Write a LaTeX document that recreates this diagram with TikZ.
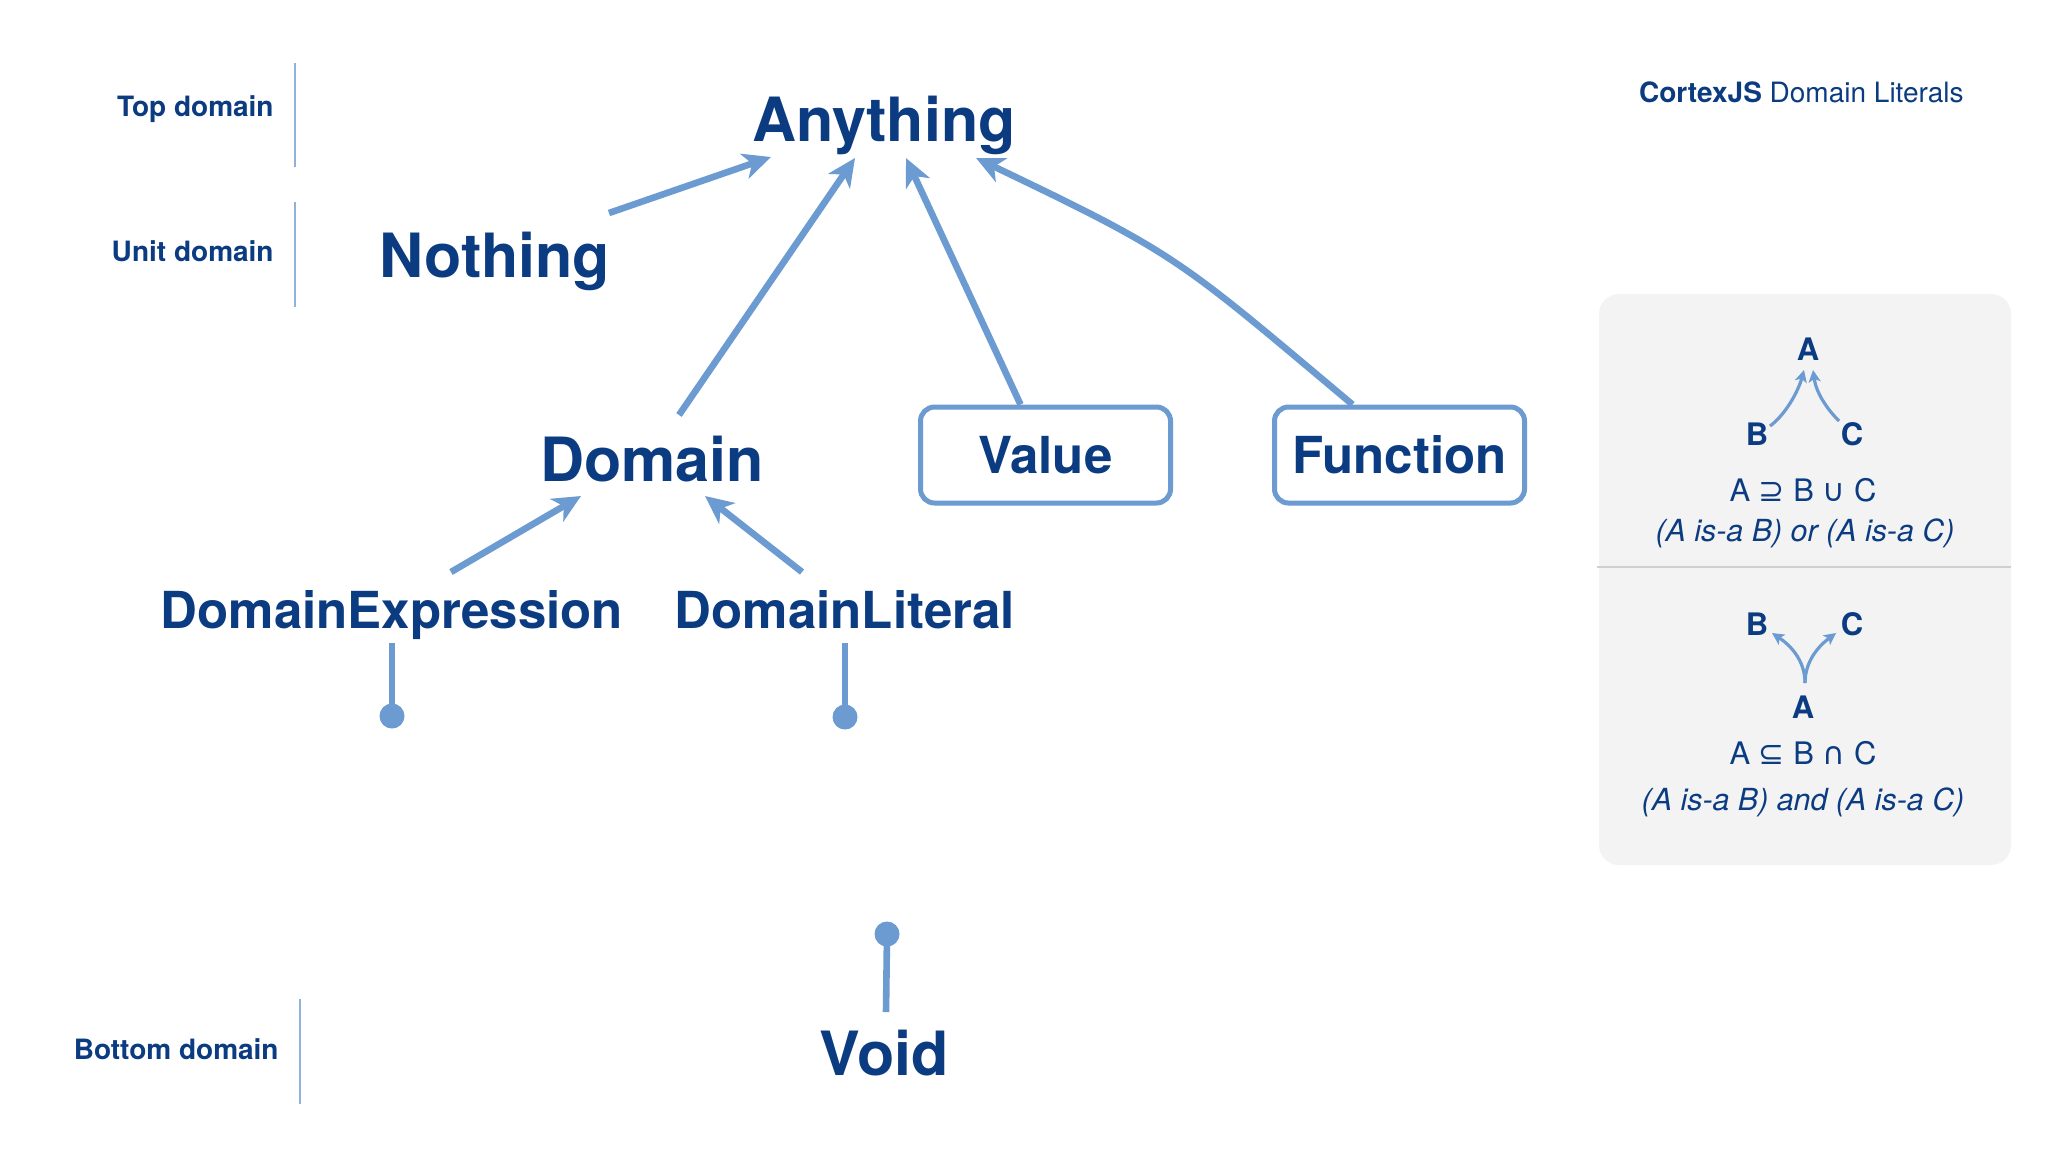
\documentclass[tikz,border=0pt]{standalone}
\usepackage{fontspec}
\setmainfont{TeX Gyre Heros}
\newfontfamily\symf{DejaVu Sans}
\usetikzlibrary{arrows.meta}
\definecolor{ink}{HTML}{0B3B80}
\definecolor{arr}{HTML}{6B9BD1}
\definecolor{panel}{HTML}{F3F3F3}
\definecolor{rulec}{HTML}{CFCFCF}
\definecolor{tick}{HTML}{8FB1DC}
\begin{document}
\begin{tikzpicture}[x=0.5pt,y=-0.5pt,
 big/.style={font=\fontsize{30.5}{36}\selectfont\bfseries, text=ink, inner sep=0, anchor=base},
 mid/.style={font=\fontsize{25.5}{30}\selectfont\bfseries, text=ink, inner sep=0, anchor=base},
 lvl/.style={font=\fontsize{14}{17}\selectfont\bfseries, text=ink, inner sep=0, anchor=base east},
 boxnode/.style={draw=arr, line width=2.5pt, rounded corners=7pt, minimum width=125pt, minimum height=48pt, inner sep=0,
   font=\fontsize{25.5}{30}\selectfont\bfseries, text=ink},
 link/.style={draw=arr, line width=3.3pt, -{Stealth[length=14pt,width=13pt,inset=4pt]}},
 stem/.style={draw=arr, line width=3.3pt},
 dotnode/.style={circle, fill=arr, minimum size=12.5pt, inner sep=0},
 tickline/.style={draw=tick, line width=0.8pt},
 letter/.style={font=\fontsize{15.5}{18}\selectfont\bfseries, text=ink, inner sep=0, anchor=base},
 eqn/.style={font=\fontsize{15.5}{18}\selectfont, text=ink, inner sep=0, anchor=base},
 itl/.style={font=\fontsize{15.2}{18}\selectfont\itshape, text=ink, inner sep=0, anchor=base},
 small/.style={draw=arr, line width=1.6pt, -{Stealth[length=6pt,width=6pt,inset=1.5pt]}}
]
\fill[white] (0,0) rectangle (2048,1175);
\useasboundingbox (0,0) rectangle (2048,1175);

% level labels
\node[lvl] (ltop) at (274,116) {Top domain};
\node[lvl] (lunit) at (274,261) {Unit domain};
\node[lvl] (lbot) at (279,1059) {Bottom domain};
\draw[tickline] (295,63) -- (295,167);
\draw[tickline] (295,202) -- (295,307);
\draw[tickline] (300,999) -- (300,1104);

% title
\node[inner sep=0, anchor=base east, text=ink, font=\fontsize{14}{17}\selectfont] (title) at (1964,102) {\textbf{CortexJS} Domain Literals};

% main nodes
\node[big] (anything) at (884,141) {Anything};
\node[big] (nothing) at (495,277) {Nothing};
\node[big] (domain) at (652,481) {Domain};
\node[boxnode] (value) at (1045.5,455) {Value};
\node[boxnode] (function) at (1399.5,455) {Function};
\node[mid] (dexpr) at (392,628) {DomainExpression};
\node[mid] (dlit) at (845,628) {DomainLiteral};
\node[big] (void) at (884,1075) {Void};

\node[dotnode] (d1) at (392,716) {};
\node[dotnode] (d2) at (845,717) {};
\node[dotnode] (d3) at (887,934) {};

% connectors
\draw[link] ([shift={(114,-64)}]nothing.base) -- ([shift={(-113,16)}]anything.base);
\draw[link] ([shift={(27,-66)}]domain.base) -- ([shift={(-29,17)}]anything.base);
\draw[link] ([xshift=-12.5pt]value.north) -- ([shift={(22,17)}]anything.base);
\draw[link] ([xshift=-23.5pt]function.north) .. controls +(-174,-146) and +(203,97) .. ([shift={(92,17)}]anything.base);
\draw[link] ([shift={(59,-56)}]dexpr.base) -- ([shift={(-71,15)}]domain.base);
\draw[link] ([shift={(-43,-56)}]dlit.base) -- ([shift={(53,15)}]domain.base);
\draw[stem] ([yshift=-7.5pt]dexpr.base) -- (d1.center);
\draw[stem] ([yshift=-7.5pt]dlit.base) -- (d2.center);
\draw[stem] ([shift={(2,-63)}]void.base) -- (d3.center);

% legend panel
\fill[panel, rounded corners=10pt] (1599,294) rectangle (2011,865);
\draw[rulec, line width=1pt] (1597,567) -- (2011,567);

\node[letter] (la) at (1808,360) {A};
\node[letter] (lb) at (1757,445) {B};
\node[letter] (lc) at (1852,445) {C};
\draw[small] ([shift={(13,-19)}]lb.base) .. controls +(15,-11) and +(-6,22) .. ([shift={(-4,10)}]la.base);
\draw[small] ([shift={(-13,-24)}]lc.base) .. controls +(-13,-13) and +(3,22) .. ([shift={(5,10)}]la.base);
\node[eqn] (eq1) at (1803,501) {A {\symf ⊇} B {\symf ∪} C};
\node[itl] (ex1) at (1805,541) {(A is-a B) or (A is-a C)};

\node[letter] (lb2) at (1757,635) {B};
\node[letter] (lc2) at (1852,635) {C};
\node[letter] (la2) at (1803,718) {A};
\draw[small] ([shift={(2,-35)}]la2.base) .. controls +(0,-23) and +(18,12) .. ([shift={(15,-2)}]lb2.base);
\draw[small] ([shift={(2,-35)}]la2.base) .. controls +(0,-23) and +(-16,12) .. ([shift={(-16,-2)}]lc2.base);
\node[eqn] (eq2) at (1803,764) {A {\symf ⊆} B {\symf ∩} C};
\node[itl] (ex2) at (1803,810) {(A is-a B) and (A is-a C)};
\end{tikzpicture}
\end{document}
